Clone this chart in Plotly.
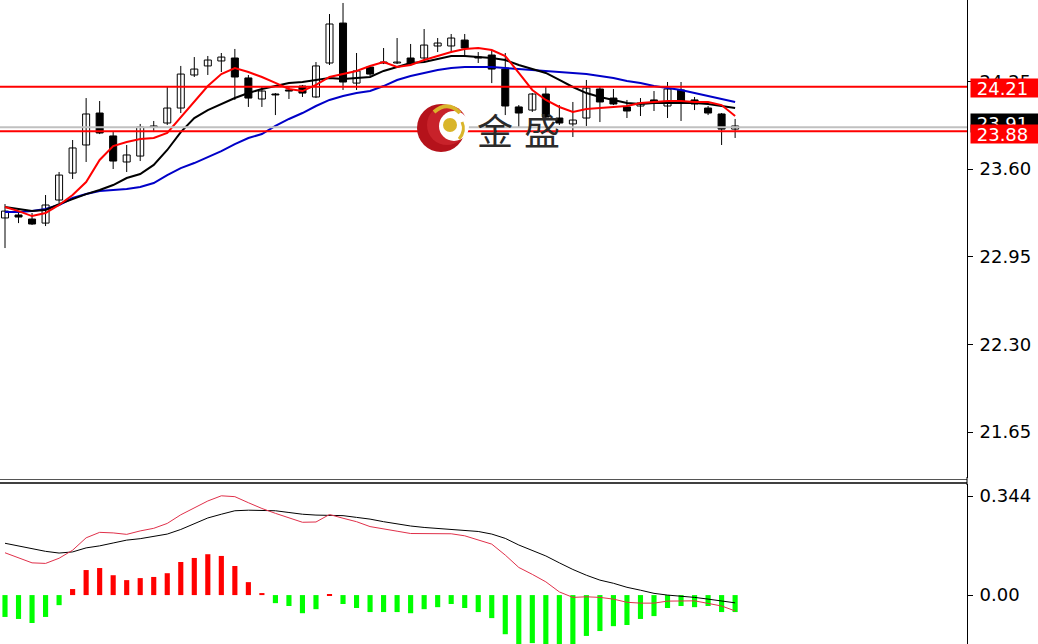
import plotly.graph_objects as go

# ---------------- data ----------------
opens = [23.237, 23.259, 23.229, 23.199, 23.370, 23.570, 23.778, 24.015, 23.845, 23.652,
         23.696, 23.911, 23.941, 24.052, 24.297, 24.364, 24.401, 24.423, 24.275, 24.119,
         24.156, 24.186, 24.215, 24.134, 24.386, 24.682, 24.237, 24.356, 24.386, 24.386,
         24.423, 24.423, 24.512, 24.512, 24.556, 24.430, 24.445, 24.341, 24.060, 24.037,
         24.156, 23.978, 23.934, 23.978, 24.193, 24.126, 24.060, 24.067, 24.112, 24.067,
         24.186, 24.112, 24.052, 24.008, 23.896]
highs = [23.340, 23.281, 23.274, 23.407, 23.578, 23.815, 24.126, 24.104, 23.874, 23.778,
         23.934, 23.956, 24.215, 24.364, 24.430, 24.438, 24.460, 24.490, 24.297, 24.208,
         24.163, 24.215, 24.223, 24.393, 24.749, 24.831, 24.460, 24.364, 24.497, 24.571,
         24.527, 24.638, 24.571, 24.601, 24.601, 24.467, 24.482, 24.460, 24.074, 24.163,
         24.208, 24.074, 24.097, 24.260, 24.215, 24.193, 24.112, 24.126, 24.178, 24.245,
         24.245, 24.134, 24.067, 24.015, 23.971]
lows = [23.014, 23.199, 23.185, 23.177, 23.348, 23.526, 23.652, 23.859, 23.600, 23.578,
        23.659, 23.874, 23.926, 24.015, 24.282, 24.297, 24.319, 24.112, 24.060, 24.060,
        24.000, 24.119, 24.134, 24.126, 24.371, 24.186, 24.186, 24.289, 24.378, 24.378,
        24.364, 24.393, 24.467, 24.460, 24.430, 24.386, 24.237, 24.000, 23.904, 24.023,
        23.963, 23.926, 23.837, 23.919, 23.948, 24.074, 23.978, 23.993, 24.030, 23.978,
        23.956, 24.037, 24.000, 23.778, 23.830]
closes = [23.288, 23.244, 23.192, 23.333, 23.555, 23.756, 24.008, 23.867, 23.659, 23.704,
          23.911, 23.919, 24.052, 24.304, 24.341, 24.408, 24.430, 24.282, 24.126, 24.178,
          24.149, 24.178, 24.163, 24.364, 24.675, 24.245, 24.327, 24.304, 24.393, 24.393,
          24.378, 24.519, 24.534, 24.571, 24.497, 24.423, 24.341, 24.067, 24.015, 24.156,
          23.985, 23.941, 23.963, 24.200, 24.097, 24.082, 24.030, 24.089, 24.089, 24.193,
          24.104, 24.082, 24.015, 23.896, 23.919]

ma_fast = [23.318, 23.288, 23.251, 23.274, 23.333, 23.407, 23.503, 23.667, 23.770, 23.800,
           23.822, 23.830, 23.867, 23.985, 24.097, 24.215, 24.304, 24.349, 24.319, 24.282,
           24.238, 24.193, 24.178, 24.223, 24.282, 24.304, 24.327, 24.364, 24.393, 24.356,
           24.371, 24.408, 24.438, 24.467, 24.490, 24.497, 24.482, 24.438, 24.312, 24.186,
           24.112, 24.060, 24.023, 24.045, 24.052, 24.060, 24.067, 24.089, 24.097, 24.104,
           24.104, 24.097, 24.097, 24.074, 23.993]
ma_mid = [23.318, 23.303, 23.288, 23.296, 23.340, 23.377, 23.414, 23.444, 23.481, 23.533,
          23.563, 23.630, 23.741, 23.874, 23.978, 24.037, 24.082, 24.126, 24.163, 24.193,
          24.215, 24.238, 24.245, 24.260, 24.275, 24.267, 24.275, 24.282, 24.327, 24.356,
          24.386, 24.393, 24.416, 24.438, 24.438, 24.430, 24.423, 24.408, 24.371, 24.341,
          24.312, 24.260, 24.208, 24.163, 24.134, 24.112, 24.089, 24.082, 24.089, 24.089,
          24.089, 24.089, 24.082, 24.067, 24.052]
ma_slow = [23.281, 23.281, 23.288, 23.303, 23.333, 23.385, 23.414, 23.437, 23.444, 23.452,
           23.466, 23.496, 23.555, 23.607, 23.644, 23.689, 23.733, 23.785, 23.830, 23.859,
           23.919, 23.971, 24.015, 24.067, 24.112, 24.141, 24.163, 24.178, 24.215, 24.260,
           24.289, 24.312, 24.334, 24.349, 24.356, 24.356, 24.356, 24.349, 24.341, 24.334,
           24.327, 24.319, 24.312, 24.304, 24.289, 24.275, 24.252, 24.238, 24.215, 24.200,
           24.186, 24.163, 24.141, 24.119, 24.097]

macd_hist = [-0.076, -0.083, -0.097, -0.076, -0.035, 0.021, 0.087, 0.094, 0.069, 0.052,
             0.059, 0.063, 0.076, 0.115, 0.129, 0.142, 0.136, 0.101, 0.045, 0.007,
             -0.028, -0.038, -0.063, -0.049, 0.003, -0.031, -0.045, -0.059, -0.059, -0.059,
             -0.063, -0.049, -0.042, -0.031, -0.045, -0.059, -0.080, -0.136, -0.191, -0.167,
             -0.195, -0.202, -0.191, -0.142, -0.125, -0.108, -0.104, -0.083, -0.073, -0.045,
             -0.038, -0.042, -0.038, -0.059, -0.059]
macd_dif = [0.147, 0.130, 0.112, 0.110, 0.128, 0.156, 0.199, 0.218, 0.216, 0.211,
            0.223, 0.232, 0.249, 0.279, 0.302, 0.327, 0.345, 0.342, 0.321, 0.301,
            0.284, 0.269, 0.253, 0.254, 0.280, 0.267, 0.255, 0.238, 0.229, 0.222,
            0.214, 0.214, 0.214, 0.213, 0.206, 0.191, 0.177, 0.139, 0.096, 0.072,
            0.046, 0.011, -0.008, -0.006, -0.008, -0.014, -0.025, -0.028, -0.028, -0.021,
            -0.020, -0.020, -0.029, -0.038, -0.055]
macd_dea = [0.180, 0.170, 0.161, 0.152, 0.146, 0.150, 0.164, 0.171, 0.181, 0.191,
            0.196, 0.203, 0.212, 0.228, 0.249, 0.268, 0.281, 0.293, 0.295, 0.295,
            0.293, 0.287, 0.281, 0.278, 0.278, 0.276, 0.270, 0.264, 0.255, 0.247,
            0.240, 0.235, 0.232, 0.228, 0.225, 0.221, 0.212, 0.197, 0.174, 0.154,
            0.136, 0.112, 0.089, 0.069, 0.052, 0.041, 0.027, 0.017, 0.006, 0.000,
            -0.003, -0.008, -0.014, -0.020, -0.027]

level_hi = 24.21
level_lo = 23.88
bid_level = 23.91
price_ticks = [21.65, 22.30, 22.95, 23.60, 24.25]
price_ticktext = ["21.65", "22.30", "22.95", "23.60", "24.25"]
macd_ticks = [0.0, 0.344]
macd_ticktext = ["0.00", "0.344"]
label_hi = "24.21"
label_lo = "23.88"
label_bid = "23.91"
watermark_chars = ["金", "盛"]

# ---------------- geometry helpers (pixels -> paper) ----------------
W, H = 1038, 644
PW = 967  # plot width in px


def px(xp):
    return xp / PW


def py(yp):
    return 1 - yp / H


n = len(opens)
idx = list(range(n))

# ---------------- traces ----------------
fig = go.Figure()

# wicks
wx, wy = [], []
for i in idx:
    wx += [i, i, None]
    wy += [lows[i], highs[i], None]
fig.add_trace(go.Scatter(x=wx, y=wy, mode="lines", line=dict(color="black", width=1),
                         hoverinfo="skip", showlegend=False, xaxis="x", yaxis="y"))

bull = [i for i in idx if closes[i] >= opens[i]]
bear = [i for i in idx if closes[i] < opens[i]]
fig.add_trace(go.Bar(x=bull, base=[opens[i] for i in bull],
                     y=[closes[i] - opens[i] for i in bull], width=0.52,
                     marker=dict(color="white", line=dict(color="black", width=1)),
                     showlegend=False, xaxis="x", yaxis="y"))
fig.add_trace(go.Bar(x=bear, base=[closes[i] for i in bear],
                     y=[opens[i] - closes[i] for i in bear], width=0.52,
                     marker=dict(color="black", line=dict(color="black", width=1)),
                     showlegend=False, xaxis="x", yaxis="y"))

fig.add_trace(go.Scatter(x=idx, y=ma_slow, mode="lines", line=dict(color="#0000C8", width=2),
                         showlegend=False, xaxis="x", yaxis="y"))
fig.add_trace(go.Scatter(x=idx, y=ma_mid, mode="lines", line=dict(color="black", width=2),
                         showlegend=False, xaxis="x", yaxis="y"))
fig.add_trace(go.Scatter(x=idx, y=ma_fast, mode="lines", line=dict(color="#FF0000", width=2),
                         showlegend=False, xaxis="x", yaxis="y"))

# MACD panel
fig.add_trace(go.Bar(x=idx, y=macd_hist, width=0.38,
                     marker=dict(color=["#FF0000" if v >= 0 else "#00FF00" for v in macd_hist],
                                 line=dict(width=0)),
                     showlegend=False, xaxis="x2", yaxis="y2"))
fig.add_trace(go.Scatter(x=idx, y=macd_dea, mode="lines", line=dict(color="black", width=1),
                         showlegend=False, xaxis="x2", yaxis="y2"))
fig.add_trace(go.Scatter(x=idx, y=macd_dif, mode="lines", line=dict(color="#E0304A", width=1),
                         showlegend=False, xaxis="x2", yaxis="y2"))

# ---------------- layout ----------------
xr = [-0.37, 71.15]
main_range = [21.309, 24.853]
macd_range = [-0.170, 0.386]
tickfont = dict(family="DejaVu Sans", size=18, color="black")

fig.update_layout(
    width=W, height=H,
    margin=dict(l=0, r=W - PW, t=0, b=0),
    paper_bgcolor="white", plot_bgcolor="white",
    barmode="overlay", showlegend=False,
    xaxis=dict(domain=[0, 1], range=xr, visible=False, anchor="y"),
    xaxis2=dict(domain=[0, 1], range=xr, visible=False, anchor="y2", matches="x"),
    yaxis=dict(domain=[1 - 478 / H, 1], range=main_range, side="right", anchor="x",
               showgrid=False, zeroline=False, showline=True, linecolor="black", linewidth=1,
               ticks="outside", ticklen=5, tickcolor="black", tickwidth=1,
               tickvals=price_ticks, ticktext=price_ticktext, tickfont=tickfont,
               ticklabelstandoff=3),
    yaxis2=dict(domain=[0, 1 - 484 / H], range=macd_range, side="right", anchor="x2",
                showgrid=False, zeroline=False, showline=True, linecolor="black", linewidth=1,
                ticks="outside", ticklen=5, tickcolor="black", tickwidth=1,
                tickvals=macd_ticks, ticktext=macd_ticktext, tickfont=tickfont,
                ticklabelstandoff=3),
)

shapes = []
# bid (gray) line and horizontal levels
shapes.append(dict(type="line", xref="paper", yref="y", x0=0, x1=1, y0=bid_level, y1=bid_level,
                   line=dict(color="#C0C0C0", width=2), layer="above"))
for lv in (level_hi, level_lo):
    shapes.append(dict(type="line", xref="paper", yref="y", x0=0, x1=1, y0=lv, y1=lv,
                       line=dict(color="#FF0000", width=2), layer="above"))
# panel separator
shapes.append(dict(type="line", xref="paper", yref="paper", x0=0, x1=1, y0=py(479.5), y1=py(479.5),
                   line=dict(color="#555555", width=1), layer="above"))
shapes.append(dict(type="line", xref="paper", yref="paper", x0=0, x1=1, y0=py(483), y1=py(483),
                   line=dict(color="black", width=1.5), layer="above"))
shapes.append(dict(type="line", xref="paper", yref="paper", x0=1, x1=1, y0=py(477), y1=py(485),
                   line=dict(color="black", width=1), layer="above"))


# watermark logo (red crescent with gold dot)
def circ(cx, cy, r, color):
    return dict(type="circle", xref="paper", yref="paper",
                x0=px(cx - r), x1=px(cx + r), y0=py(cy + r), y1=py(cy - r),
                fillcolor=color, line=dict(width=0), layer="above")


shapes.append(circ(441, 128, 24, "#B5121B"))
shapes.append(circ(447, 125, 20, "#C8222A"))
shapes.append(circ(454, 126, 15, "white"))
shapes.append(circ(450, 125, 7, "#D9B52A"))
arc_top = "M {} {} Q {} {} {} {}".format(px(434), py(112), px(448), py(100), px(460), py(113))
shapes.append(dict(type="path", xref="paper", yref="paper", path=arc_top,
                   line=dict(color="#D9B52A", width=4), layer="above"))
arc_right = "M {} {} Q {} {} {} {}".format(px(462), py(122), px(466), py(131), px(459), py(139))
shapes.append(dict(type="path", xref="paper", yref="paper", path=arc_right,
                   line=dict(color="#D9B52A", width=3), layer="above"))
fig.update_layout(shapes=shapes)

annotations = []
for ch, cx in zip(watermark_chars, (495, 542)):
    annotations.append(dict(xref="paper", yref="paper", x=px(cx), y=py(129), text=ch,
                            showarrow=False, xanchor="center", yanchor="middle",
                            font=dict(family="Noto Sans CJK SC", size=36, color="#2a2a2a")))


def label(text, cy, bg):
    return dict(xref="paper", yref="paper", x=px(970), y=py(cy), text="\u00a0" + text,
                showarrow=False, xanchor="left", yanchor="middle", align="left",
                width=80, height=18, bgcolor=bg, borderpad=0,
                font=dict(family="DejaVu Sans", size=18, color="white"))


annotations.append(label(label_bid, 123, "black"))
annotations.append(label(label_lo, 134, "#FF0000"))
annotations.append(label(label_hi, 88, "#FF0000"))
fig.update_layout(annotations=annotations)

fig.write_html("out.html", config={"displayModeBar": False},
               post_script="document.body.style.margin='0';document.body.style.overflow='hidden';")
